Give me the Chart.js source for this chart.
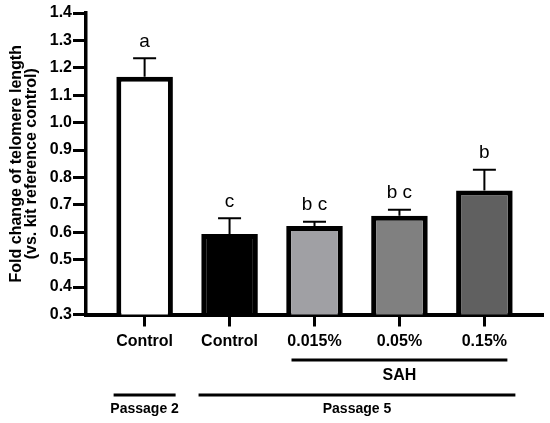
<!DOCTYPE html>
<html>
<head>
<meta charset="utf-8">
<script src="https://cdn.jsdelivr.net/npm/chart.js@4/dist/chart.umd.min.js"></script>
<style>
  html, body { margin: 0; padding: 0; background: #fff; }
  #wrap { width: 550px; height: 423px; position: relative; }
</style>
</head>
<body>
<div id="wrap"><canvas id="chart"></canvas></div>
<script>
/* ---------- DATA ---------- */
const categories = ["Control", "Control", "0.015%", "0.05%", "0.15%"];
const values = [1.167, 0.594, 0.623, 0.66, 0.752];
const errors = [0.068, 0.057, 0.015, 0.022, 0.076];
const letters = ["a", "c", "b c", "b c", "b"];
const barColors = ["#ffffff", "#000000", "#a0a0a4", "#808080", "#606060"];

const yTicks = [0.3, 0.4, 0.5, 0.6, 0.7, 0.8, 0.9, 1.0, 1.1, 1.2, 1.3, 1.4];

// group brackets under the axis (category index spans)
const groupLabels = ["SAH", "Passage 2", "Passage 5"];
const groupFrom = [2, 0, 1];
const groupTo = [4, 0, 4];
const groupRow = [0, 1, 1];

const FONT = "'Liberation Sans', Arial, Helvetica, sans-serif";

/* ---------- ERROR BARS, LETTERS, GROUPS ---------- */
const extras = {
  id: "extras",
  afterDatasetsDraw(chart) {
    const { ctx, chartArea, scales: { x, y } } = chart;
    ctx.save();
    ctx.strokeStyle = "#000";
    ctx.fillStyle = "#000";
    ctx.lineCap = "butt";

    values.forEach((v, i) => {
      const px = x.getPixelForValue(i);
      const top = y.getPixelForValue(v);
      const cap = y.getPixelForValue(v + errors[i]);
      ctx.lineWidth = 2;
      ctx.beginPath();
      ctx.moveTo(px, top);
      ctx.lineTo(px, cap);
      ctx.moveTo(px - 11.5, cap);
      ctx.lineTo(px + 11.5, cap);
      ctx.stroke();

      ctx.font = "19px " + FONT;
      ctx.textAlign = "center";
      ctx.textBaseline = "alphabetic";
      ctx.fillText(letters[i], px, cap - 11.5);
    });

    const rows = [
      { line: 45.5, text: 61.5, ext: 23, font: "bold 16px " + FONT },
      { line: 80.5, text: 94.5, ext: 31, font: "bold 14px " + FONT }
    ];
    groupLabels.forEach((label, g) => {
      const r = rows[groupRow[g]];
      const x0 = x.getPixelForValue(groupFrom[g]);
      const x1 = x.getPixelForValue(groupTo[g]);
      const ly = chartArea.bottom + r.line;
      ctx.lineWidth = 3;
      ctx.beginPath();
      ctx.moveTo(x0 - r.ext, ly);
      ctx.lineTo(x1 + r.ext, ly);
      ctx.stroke();
      ctx.font = r.font;
      ctx.textAlign = "center";
      ctx.textBaseline = "middle";
      ctx.fillText(label, (x0 + x1) / 2, chartArea.bottom + r.text);
    });
    ctx.restore();
  }
};

/* ---------- CHART ---------- */
new Chart(document.getElementById("chart"), {
  type: "bar",
  data: {
    datasets: [{
      data: values.map((v, i) => ({ x: i, y: v })),
      backgroundColor: barColors,
      borderColor: "#000000",
      borderWidth: 5,
      borderSkipped: "bottom",
      barPercentage: 0.666,
      categoryPercentage: 1
    }]
  },
  options: {
    responsive: true,
    maintainAspectRatio: false,
    animation: false,
    layout: { padding: { top: 13, right: 7, left: 0, bottom: 0 } },
    plugins: { legend: { display: false }, tooltip: { enabled: false } },
    scales: {
      x: {
        type: "linear",
        offset: false,
        min: -0.69,
        max: 4.69,
        afterBuildTicks: s => { s.ticks = categories.map((c, i) => ({ value: i })); },
        afterFit: s => { s.height = 108.5; },
        grid: { offset: false, drawOnChartArea: false, drawTicks: true, tickLength: 12, tickWidth: 3, tickColor: "#000" },
        border: { display: true, width: 4, color: "#000" },
        ticks: {
          callback: v => categories[v],
          color: "#000",
          padding: 5,
          maxRotation: 0,
          autoSkip: false,
          font: { family: FONT, size: 16, weight: "bold" }
        }
      },
      y: {
        min: 0.3,
        max: 1.4,
        afterBuildTicks: s => { s.ticks = yTicks.map(v => ({ value: v })); },
        afterFit: s => { s.width = 86; },
        grid: { drawOnChartArea: false, drawTicks: true, tickLength: 13, tickWidth: 3, tickColor: "#000" },
        border: { display: true, width: 3.5, color: "#000" },
        ticks: {
          callback: v => v.toFixed(1),
          color: "#000",
          padding: 1,
          font: { family: FONT, size: 16, weight: "bold" }
        },
        title: {
          display: true,
          text: ["Fold change of telomere length", "(vs. kit reference control)"],
          color: "#000",
          padding: { top: 9, bottom: 0 },
          font: { family: FONT, size: 16, weight: "bold", lineHeight: 0.95 }
        }
      }
    }
  },
  plugins: [extras]
});
</script>
</body>
</html>
